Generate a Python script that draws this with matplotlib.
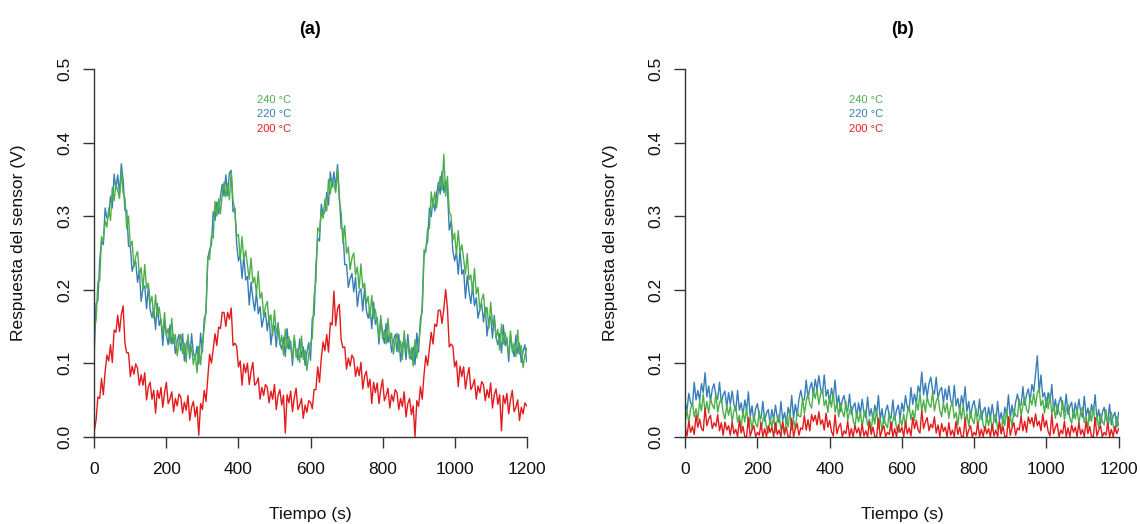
import matplotlib
matplotlib.use("Agg")
import matplotlib.pyplot as plt
import numpy as np

plt.rcParams["font.family"] = ["Liberation Sans", "DejaVu Sans"]

# tiempo de muestreo: una lectura cada 5 s
tiempo = np.arange(0, 1201, 5)

# respuesta del sensor en mV - panel (a)
verde_a = [
    144, 160, 211, 212, 272, 266, 294, 285, 311, 294, 339, 321,
    343, 334, 324, 361, 331, 325, 283, 300, 259, 266, 231, 245,
    252, 220, 230, 200, 234, 202, 209, 181, 191, 161, 193, 163,
    176, 158, 139, 169, 137, 147, 127, 161, 127, 139, 110, 128,
    139, 113, 127, 101, 139, 111, 122, 98, 113, 87, 123, 98,
    126, 148, 174, 244, 241, 273, 270, 320, 300, 323, 303, 329,
    346, 326, 344, 322, 360, 321, 309, 272, 275, 241, 272, 241,
    253, 234, 214, 243, 209, 217, 194, 225, 188, 196, 163, 177,
    184, 155, 166, 137, 172, 142, 151, 125, 138, 111, 146, 120,
    136, 121, 105, 138, 108, 120, 101, 137, 105, 118, 90, 111,
    126, 135, 191, 212, 284, 279, 307, 297, 323, 307, 350, 330,
    351, 342, 332, 364, 321, 305, 263, 287, 249, 258, 227, 243,
    250, 220, 231, 201, 235, 202, 209, 181, 191, 161, 192, 161,
    173, 154, 134, 165, 133, 145, 126, 161, 129, 141, 112, 130,
    141, 115, 130, 105, 144, 117, 129, 106, 121, 96, 132, 107,
    129, 148, 179, 254, 251, 283, 283, 333, 312, 333, 311, 336,
    354, 335, 384, 327, 354, 306, 301, 267, 277, 247, 280, 250,
    261, 242, 221, 249, 213, 220, 197, 229, 194, 203, 171, 186,
    194, 165, 176, 147, 183, 153, 161, 134, 146, 118, 153, 126,
    142, 127, 111, 144, 115, 127, 109, 145, 112, 124, 94, 111,
    120,
]
azul_a = [
    117, 181, 185, 239, 267, 261, 311, 297, 301, 327, 311, 357,
    337, 356, 330, 371, 349, 308, 308, 259, 259, 225, 234, 238,
    210, 226, 184, 202, 205, 174, 204, 173, 162, 175, 146, 181,
    151, 160, 124, 158, 139, 125, 152, 126, 139, 113, 129, 139,
    117, 140, 103, 126, 133, 106, 140, 113, 106, 123, 99, 141,
    115, 160, 168, 243, 254, 261, 306, 294, 319, 303, 327, 343,
    327, 356, 328, 359, 362, 306, 311, 263, 239, 247, 215, 247,
    213, 218, 179, 210, 188, 171, 196, 167, 177, 149, 162, 169,
    144, 164, 125, 146, 151, 122, 155, 127, 119, 135, 109, 147,
    119, 130, 97, 133, 116, 104, 133, 108, 122, 97, 114, 128,
    104, 161, 165, 232, 270, 266, 316, 302, 306, 332, 315, 360,
    339, 360, 338, 370, 329, 283, 283, 234, 234, 203, 215, 222,
    197, 217, 177, 197, 201, 171, 202, 172, 161, 175, 147, 183,
    153, 162, 126, 160, 141, 127, 154, 128, 141, 115, 130, 139,
    116, 139, 102, 125, 132, 105, 139, 112, 105, 122, 98, 141,
    115, 160, 170, 245, 257, 266, 311, 299, 324, 307, 330, 346,
    330, 361, 332, 349, 337, 281, 293, 253, 239, 251, 221, 254,
    221, 227, 188, 219, 197, 181, 206, 178, 189, 161, 174, 181,
    156, 176, 137, 158, 163, 134, 165, 135, 125, 140, 114, 152,
    124, 135, 102, 138, 121, 109, 138, 113, 127, 101, 116, 125,
    102,
]
rojo_a = [
    8, 23, 54, 52, 79, 57, 88, 111, 103, 125, 101, 145,
    142, 165, 143, 166, 178, 127, 114, 114, 82, 96, 85, 99,
    93, 70, 84, 70, 87, 50, 68, 74, 51, 63, 32, 63,
    52, 67, 40, 60, 74, 45, 51, 61, 34, 52, 42, 58,
    54, 32, 47, 36, 56, 22, 40, 48, 27, 41, 2, 45,
    37, 63, 48, 81, 112, 100, 119, 140, 124, 149, 147, 169,
    169, 150, 169, 160, 175, 124, 127, 123, 95, 103, 70, 99,
    87, 100, 71, 89, 101, 70, 73, 80, 51, 67, 56, 71,
    67, 46, 62, 51, 71, 37, 56, 64, 43, 56, 5, 57,
    46, 62, 34, 53, 66, 37, 43, 52, 25, 43, 33, 49,
    47, 38, 64, 64, 95, 74, 107, 129, 117, 139, 115, 155,
    152, 198, 151, 174, 180, 132, 121, 122, 92, 107, 96, 111,
    106, 82, 95, 83, 101, 65, 82, 89, 67, 78, 45, 74,
    60, 73, 45, 64, 78, 49, 56, 66, 39, 57, 48, 64,
    60, 37, 52, 41, 61, 27, 45, 52, 30, 42, 0, 49,
    41, 68, 51, 84, 110, 97, 119, 142, 126, 153, 150, 172,
    172, 154, 174, 200, 175, 122, 126, 123, 95, 103, 68, 96,
    82, 95, 65, 82, 94, 64, 69, 78, 51, 69, 60, 75,
    71, 49, 64, 53, 73, 39, 57, 65, 44, 57, 8, 56,
    45, 59, 31, 50, 63, 34, 40, 50, 22, 40, 31, 46,
    42,
]

# respuesta del sensor en mV - panel (b)
verde_b = [
    20, 36, 19, 38, 47, 27, 38, 23, 48, 35, 58, 33,
    48, 32, 52, 43, 38, 59, 33, 46, 53, 33, 24, 43,
    29, 42, 20, 36, 42, 20, 29, 12, 35, 20, 40, 13,
    27, 9, 29, 18, 13, 35, 9, 23, 31, 13, 5, 25,
    13, 27, 6, 23, 30, 9, 18, 2, 26, 13, 34, 9,
    23, 10, 34, 28, 27, 53, 31, 48, 59, 44, 39, 62,
    52, 65, 44, 59, 65, 42, 50, 33, 55, 40, 60, 33,
    46, 27, 46, 34, 27, 48, 22, 34, 41, 22, 14, 33,
    20, 34, 13, 30, 36, 15, 24, 8, 32, 17, 38, 11,
    25, 8, 27, 17, 12, 33, 8, 22, 30, 12, 6, 26,
    15, 31, 14, 33, 42, 23, 36, 22, 48, 36, 59, 34,
    50, 33, 54, 44, 40, 61, 35, 48, 55, 36, 27, 46,
    33, 46, 25, 41, 47, 25, 33, 16, 39, 24, 45, 18,
    32, 14, 34, 23, 18, 39, 14, 27, 35, 16, 8, 28,
    15, 29, 8, 25, 31, 10, 20, 4, 28, 15, 37, 12,
    28, 14, 37, 29, 27, 51, 28, 43, 53, 37, 32, 53,
    43, 59, 41, 60, 65, 42, 50, 32, 53, 38, 58, 30,
    43, 25, 44, 33, 27, 49, 23, 37, 44, 25, 18, 37,
    24, 38, 17, 34, 40, 19, 28, 12, 35, 21, 42, 15,
    29, 12, 31, 21, 16, 37, 12, 25, 33, 15, 7, 27,
    15,
]
azul_b = [
    46, 36, 59, 46, 42, 74, 50, 63, 49, 72, 60, 87,
    54, 69, 48, 65, 72, 55, 51, 74, 46, 57, 62, 40,
    60, 44, 62, 44, 35, 63, 36, 46, 29, 50, 36, 61,
    27, 42, 21, 38, 45, 28, 25, 48, 21, 32, 37, 17,
    37, 23, 43, 26, 19, 48, 22, 33, 17, 40, 29, 56,
    25, 44, 29, 51, 63, 50, 50, 77, 52, 66, 74, 56,
    78, 64, 83, 65, 58, 84, 55, 64, 45, 66, 53, 77,
    43, 56, 34, 50, 56, 39, 35, 58, 30, 41, 46, 26,
    46, 31, 51, 33, 26, 54, 28, 38, 22, 43, 31, 56,
    23, 38, 18, 35, 43, 28, 25, 50, 23, 36, 43, 24,
    46, 34, 56, 40, 35, 67, 44, 58, 45, 69, 60, 88,
    57, 73, 54, 72, 81, 63, 58, 81, 52, 63, 67, 46,
    65, 50, 69, 50, 42, 70, 42, 52, 35, 56, 43, 68,
    34, 48, 26, 42, 49, 32, 28, 51, 23, 35, 40, 20,
    40, 25, 44, 27, 19, 48, 22, 33, 17, 40, 29, 57,
    25, 43, 27, 47, 58, 44, 43, 68, 43, 57, 65, 48,
    71, 61, 85, 110, 60, 84, 54, 60, 40, 60, 46, 71,
    36, 51, 30, 47, 54, 38, 34, 58, 30, 41, 47, 26,
    46, 32, 51, 34, 26, 55, 28, 39, 22, 44, 31, 57,
    23, 37, 17, 33, 40, 24, 20, 44, 16, 28, 33, 13,
    33,
]
rojo_b = [
    13, 1, 21, 6, 14, 3, 29, 13, 24, 11, 8, 39,
    15, 24, 29, 11, 19, 14, 30, 8, 19, 2, 20, 9,
    15, 2, 20, 4, 10, 0, 22, 5, 14, 0, 0, 26,
    1, 9, 15, 0, 6, 2, 19, 0, 11, 0, 15, 6,
    13, 0, 19, 3, 9, 0, 21, 4, 13, 0, 0, 25,
    0, 11, 18, 2, 12, 10, 29, 9, 23, 8, 30, 21,
    29, 16, 34, 17, 23, 9, 32, 13, 22, 7, 1, 30,
    4, 13, 18, 0, 8, 4, 21, 0, 11, 0, 15, 5,
    12, 0, 17, 1, 8, 0, 20, 3, 13, 0, 0, 25,
    0, 9, 15, 0, 6, 3, 20, 0, 11, 0, 16, 6,
    13, 0, 20, 4, 12, 1, 26, 11, 22, 9, 5, 36,
    11, 20, 26, 8, 17, 12, 27, 5, 16, 0, 18, 7,
    13, 0, 19, 2, 9, 0, 21, 3, 13, 0, 0, 25,
    0, 9, 15, 0, 6, 2, 19, 0, 10, 0, 14, 4,
    11, 0, 17, 1, 9, 0, 21, 4, 14, 0, 0, 27,
    2, 12, 19, 2, 12, 9, 28, 8, 21, 6, 27, 18,
    26, 13, 31, 15, 21, 8, 31, 13, 22, 7, 1, 30,
    4, 13, 18, 0, 9, 4, 21, 0, 12, 0, 16, 6,
    13, 0, 19, 3, 10, 0, 21, 4, 14, 0, 0, 26,
    1, 9, 15, 0, 6, 2, 19, 0, 10, 0, 14, 4,
    11,
]

temperaturas = ["240 °C", "220 °C", "200 °C"]
colores = ["#4DAF4A", "#377EB8", "#E41A1C"]
x_ticks = [0, 200, 400, 600, 800, 1000, 1200]
y_ticks = [0.0, 0.1, 0.2, 0.3, 0.4, 0.5]

for serie in (verde_a, azul_a, rojo_a, verde_b, azul_b, rojo_b):
    assert len(serie) == len(tiempo), len(serie)


def dibujar_panel(ax, verde, azul, rojo):
    # azul debajo, verde encima, rojo al final
    ax.plot(tiempo, np.array(azul) / 1000, color=colores[1], lw=1.0)
    ax.plot(tiempo, np.array(verde) / 1000, color=colores[0], lw=1.0)
    ax.plot(tiempo, np.array(rojo) / 1000, color=colores[2], lw=1.0)

    ax.set_xlim(0, 1200)
    ax.set_ylim(0, 0.5)
    ax.set_xticks(x_ticks)
    ax.set_yticks(y_ticks)
    ax.set_yticklabels([f"{v:.1f}" for v in y_ticks], rotation=90, va="center")
    for lado in ("top", "right"):
        ax.spines[lado].set_visible(False)
    for lado in ("left", "bottom"):
        ax.spines[lado].set_color("#333333")
        ax.spines[lado].set_linewidth(1.0)
    ax.tick_params(axis="both", length=8, width=1.0, color="#333333",
                   labelsize=12.5, labelcolor="#111111")
    ax.tick_params(axis="x", pad=10)
    ax.tick_params(axis="y", pad=8)

    for i, txt in enumerate(temperaturas):
        ax.text(500, 0.458 - 0.0195 * i, txt, color=colores[i], fontsize=8,
                ha="center", va="center")


fig = plt.figure(figsize=(11.4, 5.24), dpi=100)
W, H = 1140, 524

ax_a = fig.add_axes([94.3 / W, 1 - 436.7 / H, 432.4 / W, 367.7 / H])
ax_b = fig.add_axes([685.2 / W, 1 - 436.7 / H, 433.4 / W, 367.7 / H])

dibujar_panel(ax_a, verde_a, azul_a, rojo_a)
dibujar_panel(ax_b, verde_b, azul_b, rojo_b)

for cx, etiqueta, ylab_x in ((310, "(a)", 19), (902, "(b)", 611)):
    fig.text(cx / W, 1 - 29 / H, etiqueta, fontsize=13, fontweight="bold",
             ha="center", va="center")
    fig.text(cx / W, 1 - 514 / H, "Tiempo (s)", fontsize=12.5,
             ha="center", va="center", color="#111111")
    fig.text(ylab_x / W, 1 - 243 / H, "Respuesta del sensor (V)", fontsize=12.5,
             rotation=90, ha="center", va="center", color="#111111")

fig.savefig("out.png", dpi=100)
